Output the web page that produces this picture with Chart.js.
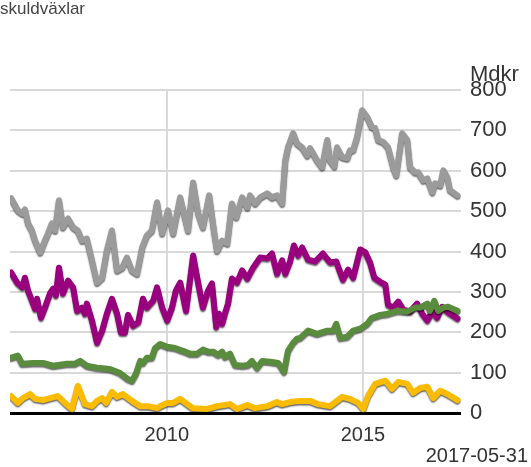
<!DOCTYPE html>
<html>
<head>
<meta charset="utf-8">
<script src="https://cdn.jsdelivr.net/npm/chart.js@4/dist/chart.umd.min.js"></script>
<style>
  html, body { margin: 0; padding: 0; background: #fff; }
  #wrap { width: 531px; height: 467px; }
</style>
</head>
<body>
<div id="wrap"><canvas id="chart" width="531" height="467"></canvas></div>
<script>
// values in Mdkr, x in decimal years
var grayYears = [2006.03,2006.20,2006.31,2006.38,2006.46,2006.56,2006.64,2006.77,2006.89,2006.97,
  2007.07,2007.15,2007.25,2007.35,2007.48,2007.61,2007.73,2007.84,2007.96,2008.09,
  2008.22,2008.35,2008.47,2008.60,2008.73,2008.86,2008.98,2009.11,2009.24,2009.37,
  2009.49,2009.62,2009.75,2009.88,2010.03,2010.16,2010.34,2010.46,2010.54,2010.67,
  2010.80,2010.92,2011.08,2011.20,2011.28,2011.41,2011.54,2011.66,2011.77,2011.92,
  2012.05,2012.12,2012.25,2012.38,2012.56,2012.68,2012.81,2012.94,2013.02,2013.09,
  2013.22,2013.32,2013.45,2013.58,2013.65,2013.73,2013.83,2013.96,2014.09,2014.16,
  2014.27,2014.34,2014.47,2014.60,2014.67,2014.75,2014.85,2014.98,2015.11,2015.23,
  2015.31,2015.39,2015.52,2015.64,2015.77,2015.85,2016.00,2016.13,2016.20,2016.33,
  2016.41,2016.54,2016.64,2016.77,2016.84,2016.97,2017.05,2017.15,2017.22,2017.41];
var grayValues = [532,502,494,504,470,452,427,398,427,445,
  470,452,527,460,482,460,452,427,432,378,
  323,335,402,452,353,360,385,353,345,410,
  440,452,522,445,502,445,534,485,452,571,
  494,460,539,452,402,427,420,519,485,534,
  509,539,519,534,544,534,539,519,626,658,
  693,668,658,638,656,643,626,609,676,626,
  611,658,634,631,651,651,683,750,733,708,
  706,676,671,658,609,589,693,676,609,596,
  596,576,581,547,569,564,601,584,552,539];

var purpleYears = [2006.03,2006.18,2006.31,2006.38,2006.46,2006.56,2006.64,2006.69,2006.79,2006.89,
  2007.02,2007.10,2007.17,2007.25,2007.35,2007.48,2007.61,2007.71,2007.84,2007.91,
  2007.96,2008.09,2008.22,2008.35,2008.47,2008.60,2008.73,2008.83,2008.93,2009.01,
  2009.14,2009.27,2009.39,2009.49,2009.65,2009.75,2009.88,2010.01,2010.13,2010.23,
  2010.34,2010.49,2010.67,2010.80,2010.92,2011.05,2011.15,2011.26,2011.33,2011.41,
  2011.48,2011.56,2011.66,2011.79,2011.92,2012.05,2012.20,2012.38,2012.56,2012.68,
  2012.81,2012.94,2013.02,2013.14,2013.24,2013.35,2013.45,2013.60,2013.78,2013.98,
  2014.16,2014.32,2014.49,2014.62,2014.75,2014.93,2015.06,2015.18,2015.29,2015.44,
  2015.57,2015.64,2015.77,2015.90,2016.03,2016.20,2016.38,2016.51,2016.64,2016.77,
  2016.89,2017.02,2017.15,2017.41];
var purpleValues = [348,323,311,335,303,278,258,283,236,261,
  296,308,291,360,296,328,311,253,261,246,
  271,229,174,204,246,283,246,199,199,243,
  216,224,283,261,278,311,261,229,261,303,
  323,253,390,321,261,303,321,213,246,221,
  246,271,333,323,353,333,360,385,383,395,
  345,378,345,375,415,390,410,380,375,395,
  373,375,330,355,335,405,398,373,335,325,
  318,268,261,276,256,251,271,246,229,251,
  236,263,251,234];

var greenYears = [2006.03,2006.20,2006.31,2006.59,2006.84,2007.10,2007.45,2007.66,2007.79,2007.96,
  2008.22,2008.55,2008.81,2009.01,2009.11,2009.21,2009.32,2009.39,2009.49,2009.62,
  2009.70,2009.83,2010.01,2010.21,2010.41,2010.59,2010.77,2010.92,2011.05,2011.18,
  2011.31,2011.41,2011.48,2011.61,2011.74,2011.92,2012.07,2012.17,2012.30,2012.43,
  2012.63,2012.84,2012.99,2013.09,2013.22,2013.32,2013.40,2013.60,2013.83,2014.09,
  2014.24,2014.32,2014.42,2014.60,2014.75,2014.93,2015.11,2015.23,2015.44,2015.64,
  2015.87,2016.13,2016.33,2016.46,2016.64,2016.71,2016.82,2016.92,2017.05,2017.17,
  2017.41];
var greenValues = [137,142,122,124,124,117,122,122,129,117,
  112,109,99,84,80,97,129,124,137,137,
  161,171,164,161,154,147,147,157,152,152,
  144,152,139,147,119,117,119,129,112,129,
  127,124,102,154,174,184,186,204,196,204,
  204,221,186,189,204,209,221,236,243,246,
  253,251,261,261,271,253,278,253,261,263,
  253];

var yellowYears = [2006.03,2006.20,2006.33,2006.51,2006.64,2006.84,2007.02,2007.22,2007.40,2007.58,
  2007.73,2007.91,2008.09,2008.22,2008.35,2008.45,2008.60,2008.73,2008.88,2009.11,
  2009.32,2009.52,2009.75,2009.83,2010.01,2010.16,2010.34,2010.52,2010.67,2011.03,
  2011.28,2011.61,2011.79,2012.05,2012.25,2012.56,2012.81,2012.94,2013.14,2013.40,
  2013.65,2013.86,2014.16,2014.47,2014.67,2014.88,2015.01,2015.13,2015.31,2015.57,
  2015.74,2015.90,2016.13,2016.28,2016.46,2016.64,2016.79,2016.97,2017.15,2017.41];
var yellowValues = [42,25,37,47,35,32,37,42,25,10,
  67,22,17,30,37,25,52,40,47,30,
  17,17,12,17,25,25,35,22,12,10,
  17,22,10,20,12,17,27,22,27,30,
  30,22,17,40,35,25,10,42,72,80,
  60,77,72,50,62,65,37,55,47,32];

var xTicks = [2010, 2015];
var yMin = 0, yMax = 800, yStep = 100;
var titleText = 'skuldväxlar';
var unitText = 'Mdkr';
var dateText = '2017-05-31';

function pts(xs, ys) {
  return xs.map(function (x, i) { return { x: x, y: ys[i] }; });
}

var FONT = '"Liberation Sans", Arial, sans-serif';

var shadowPlugin = {
  id: 'lineShadow',
  beforeDatasetsDraw: function (chart) {
    var ctx = chart.ctx;
    ctx.save();
    ctx.shadowColor = 'rgba(0,0,0,0.6)';
    ctx.shadowBlur = 1.5;
    ctx.shadowOffsetX = 0;
    ctx.shadowOffsetY = 1.5;
  },
  afterDatasetsDraw: function (chart) {
    chart.ctx.restore();
  }
};

var textPlugin = {
  id: 'texts',
  afterDraw: function (chart) {
    var ctx = chart.ctx;
    var area = chart.chartArea;
    ctx.save();
    ctx.fillStyle = '#444';
    ctx.font = '17px ' + FONT;
    ctx.textAlign = 'left';
    ctx.textBaseline = 'alphabetic';
    ctx.fillText(titleText, 0, 14);

    ctx.fillStyle = '#333';
    ctx.font = '22px ' + FONT;
    ctx.fillText(unitText, area.right + 9, area.top - 9);

    ctx.font = '20px ' + FONT;
    ctx.textAlign = 'right';
    ctx.fillText(dateText, 528, 462);
    ctx.restore();
  }
};

function ds(data, color, order) {
  return {
    data: data,
    borderColor: color,
    borderWidth: 6,
    pointRadius: 0,
    tension: 0,
    fill: false,
    order: order,
    borderJoinStyle: 'round',
    borderCapStyle: 'round'
  };
}

new Chart(document.getElementById('chart'), {
  type: 'line',
  data: {
    datasets: [
      ds(pts(yellowYears, yellowValues), '#fbbc00', 1),
      ds(pts(greenYears, greenValues), '#5a8c3e', 2),
      ds(pts(purpleYears, purpleValues), '#99007d', 3),
      ds(pts(grayYears, grayValues), '#9b9b9b', 4)
    ]
  },
  options: {
    responsive: false,
    animation: false,
    layout: { padding: { top: 90, left: 10, right: 0, bottom: 0 } },
    plugins: { legend: { display: false }, tooltip: { enabled: false }, title: { display: false } },
    scales: {
      x: {
        type: 'linear',
        min: 2006,
        max: 2017.5,
        afterBuildTicks: function (scale) {
          scale.ticks = xTicks.map(function (v) { return { value: v }; });
        },
        afterFit: function (scale) { scale.height = 54; },
        grid: { color: '#d9d9d9', lineWidth: 2, drawTicks: false },
        border: { display: false },
        ticks: {
          color: '#333',
          font: { family: FONT, size: 20 },
          padding: 10,
          maxRotation: 0,
          callback: function (v) { return String(v); }
        }
      },
      y: {
        position: 'right',
        min: yMin,
        max: yMax,
        afterFit: function (scale) { scale.width = 70; },
        grid: {
          drawTicks: false,
          color: function (c) { return c.tick && c.tick.value === 0 ? '#000' : '#d9d9d9'; },
          lineWidth: function (c) { return c.tick && c.tick.value === 0 ? 3 : 2; }
        },
        border: { display: false },
        ticks: {
          stepSize: yStep,
          color: '#333',
          font: { family: FONT, size: 22 },
          padding: 9
        }
      }
    }
  },
  plugins: [shadowPlugin, textPlugin]
});
</script>
</body>
</html>
